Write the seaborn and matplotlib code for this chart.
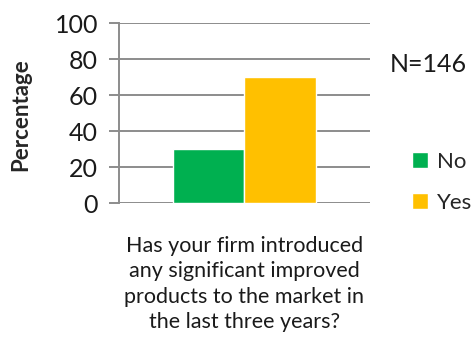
import matplotlib
matplotlib.use("Agg")
import matplotlib.pyplot as plt
import seaborn as sns
import pandas as pd

# Survey result
question = ["Has your firm introduced\nany significant improved\nproducts to the market in\nthe last three years?"]
answers = ["No", "Yes"]
percentages = [30.1, 69.9]
sample_label = "N=146"
y_ticks = [0, 20, 40, 60, 80, 100]

df = pd.DataFrame({
    "question": question * len(answers),
    "answer": answers,
    "pct": percentages,
})

sns.set_style("white")
plt.rcParams["font.family"] = ["Lato", "DejaVu Sans"]

fig = plt.figure(figsize=(4.72, 3.42), dpi=100)
ax = fig.add_axes([0.2521, 0.4064, 0.5318, 0.5263])

sns.barplot(data=df, x="question", y="pct", hue="answer",
            palette=["#00B050", "#FFC000"], width=0.566,
            saturation=1, ax=ax, zorder=3, legend=True)

ax.set_ylim(0, 100)
ax.set_xlim(-0.5, 0.5)
ax.set_yticks(y_ticks)
ax.set_yticklabels([str(t) for t in y_ticks], fontsize=18, color="#1a1a1a")
ax.yaxis.grid(True, color="#8c8c8c", linewidth=1.4, zorder=0)
ax.tick_params(axis="y", length=7, width=1.4, color="#8c8c8c", pad=8, left=True)
ax.tick_params(axis="x", length=0, pad=24)
ax.set_xticks([0])
ax.set_xticklabels(question, fontsize=15.5, color="#1a1a1a", linespacing=1.32)
for s in ["top", "right", "bottom"]:
    ax.spines[s].set_visible(False)
ax.spines["left"].set_color("#8c8c8c")
ax.spines["left"].set_linewidth(1.4)
ax.set_xlabel("")
ax.set_ylabel("Percentage", fontsize=16, fontweight="bold")
ax.yaxis.set_label_coords(-0.35, 0.49)

leg = ax.legend(loc="upper left", bbox_to_anchor=(1.115, 0.36), frameon=False,
                fontsize=16, handlelength=0.7, handleheight=0.7,
                handletextpad=0.4, labelspacing=0.95, borderaxespad=0.2)

fig.text(0.99, 0.81, sample_label, fontsize=18, ha="right", va="center",
         color="#1a1a1a")

fig.savefig("out.png", dpi=100)
